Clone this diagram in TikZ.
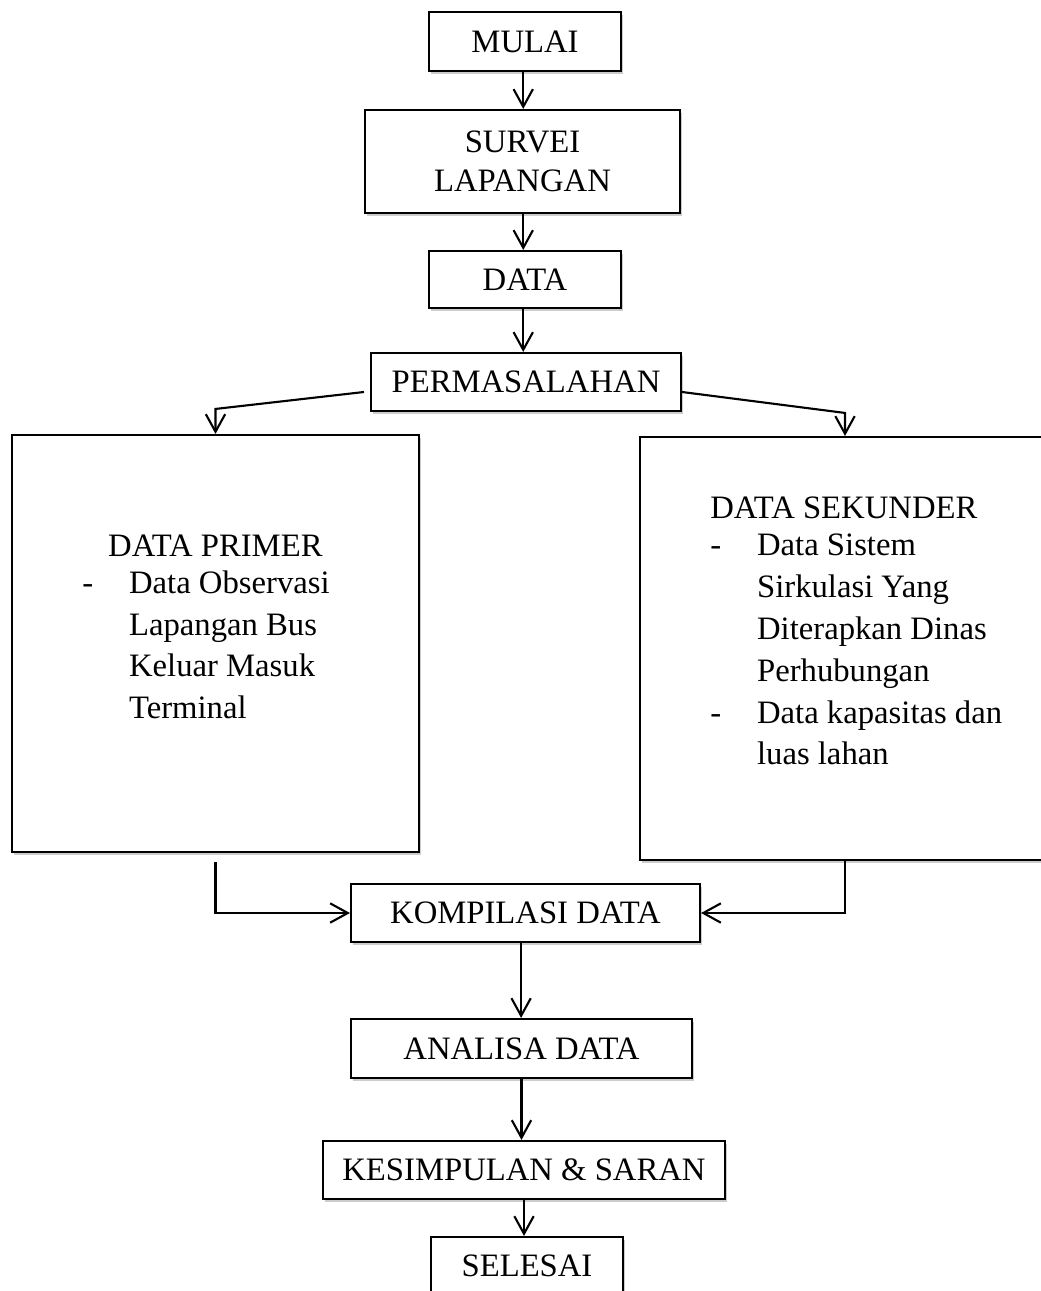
\documentclass[tikz,border=0pt]{standalone}
\usepackage{fontspec}
\setmainfont{Liberation Serif}
\usetikzlibrary{positioning,shapes,arrows.meta,shadows,calc}

\begin{document}
\begin{tikzpicture}[x=0.2mm, y=-0.2mm,
    box/.style={draw, line width=1.2pt, fill=white, inner sep=0pt, align=center,
        font=\fontsize{18.6}{23.8}\selectfont,
        drop shadow={shadow xshift=1pt, shadow yshift=-1.5pt, opacity=0.4}},
    txt/.style={anchor=base west, inner sep=0pt, font=\fontsize{18.6}{23.8}\selectfont},
    arr/.style={line width=1.2pt, -{Straight Barb[length=10pt, width=11pt]}}]
    % Page frame (the last box and the right box run past it)
    \useasboundingbox (0,0) rectangle (1041,1291);
    \clip (0,0) rectangle (1041,1291);

    % Main column
    \node[box, minimum width=38.4mm, minimum height=11.8mm] (mulai) at (525,41.5) {MULAI};
    \node[box, minimum width=63mm, minimum height=20.6mm] (survei) at (522.5,161.5) {SURVEI\\[-1.6pt]LAPANGAN};
    \node[box, minimum width=38.4mm, minimum height=11.4mm] (data) at (525,279.5) {DATA};
    \node[box, minimum width=62mm, minimum height=11.6mm] (perm) at (526,382) {PERMASALAHAN};

    % Data boxes
    \node[box, minimum width=81.4mm, minimum height=83.4mm] (primer) at (215.5,643.5) {};
    \node[box, minimum width=82mm, minimum height=84.6mm] (sekunder) at (845,648.5) {};
    \node[txt] (primertxt) at (82,556) {\begin{tabular}[t]{@{}p{26.6pt}@{}l@{}}
        \multicolumn{2}{@{}l@{}}{\hspace{14.7pt}DATA PRIMER}\\[-2.6pt]
        - & Data Observasi\\
          & Lapangan Bus\\
          & Keluar Masuk\\
          & Terminal
        \end{tabular}};
    \node[txt] (sekundertxt) at (710,518) {\begin{tabular}[t]{@{}p{26.6pt}@{}l@{}}
        \multicolumn{2}{@{}l@{}}{DATA SEKUNDER}\\[-2.3pt]
        - & Data Sistem\\
          & Sirkulasi Yang\\
          & Diterapkan Dinas\\
          & Perhubungan\\
        - & Data kapasitas dan\\
          & luas lahan
        \end{tabular}};

    % Lower column
    \node[box, minimum width=69.8mm, minimum height=11.6mm] (kompilasi) at (525.5,913) {KOMPILASI DATA};
    \node[box, minimum width=68.2mm, minimum height=11.8mm] (analisa) at (521.5,1048.5) {ANALISA DATA};
    \node[box, minimum width=80.4mm, minimum height=11.6mm] (kesimpulan) at (524,1170) {KESIMPULAN \& SARAN};
    \node[box, minimum width=38.4mm, minimum height=11.6mm] (selesai) at (527,1266) {SELESAI};

    % Arrows down the column
    \draw[arr] ([xshift=-1pt]mulai.south) -- ([xshift=-1pt]mulai.south |- survei.north);
    \draw[arr] ([xshift=-1pt]survei.south -| mulai.south) -- ([xshift=-1pt]data.north);
    \draw[arr] ([xshift=-1pt]data.south) -- ([xshift=-1pt]data.south |- perm.north);

    % Branches to the data boxes
    \coordinate (pl) at ($(primer.north)+(0,-25)$);
    \coordinate (pr) at ($(sekunder.north)+(0,-23)$);
    \draw[arr] ($(perm.west)+(-6,10)$) -- (pl) -- (primer.north);
    \draw[arr] ($(perm.east)+(0,10)$) -- (pr) -- (sekunder.north);

    % Back to the compilation
    \draw[arr] ($(primer.south)+(0,9)$) |- (kompilasi.west);
    \draw[arr] (sekunder.south) |- (kompilasi.east);

    \draw[arr] ([xshift=-2.5pt]kompilasi.south) -- ([xshift=-2.5pt]kompilasi.south |- analisa.north);
    \draw[arr] (analisa.south) -- (analisa.south |- kesimpulan.north);
    \draw[arr] (kesimpulan.south) -- (kesimpulan.south |- selesai.north);
\end{tikzpicture}
\end{document}
